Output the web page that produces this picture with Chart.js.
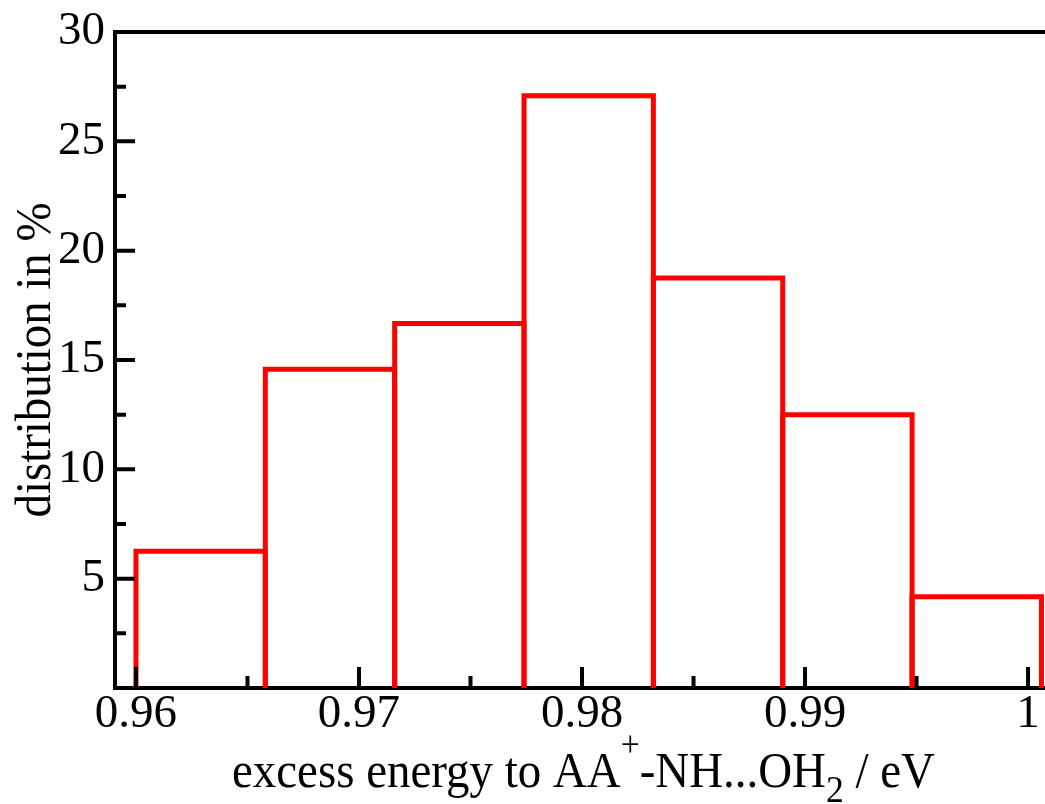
<!DOCTYPE html>
<html>
<head>
<meta charset="utf-8">
<script src="https://cdn.jsdelivr.net/npm/chart.js@4.4.1/dist/chart.umd.min.js"></script>
<style>
  html, body { margin: 0; padding: 0; background: #fff; }
  #container { width: 1045px; height: 804px; }
</style>
</head>
<body>
<div id="container"><canvas id="myChart" width="1045" height="804"></canvas></div>
<script>
// histogram bins (eV) and their share in %
const binEdges = [0.96, 0.9658, 0.9716, 0.9774, 0.9832, 0.989, 0.9948, 1.0006];
const percents = [6.25, 14.58, 16.67, 27.08, 18.75, 12.5, 4.17];

const xTicks = [0.96, 0.97, 0.98, 0.99, 1.0];
const xTickLabels = ["0.96", "0.97", "0.98", "0.99", "1"];
const xMinorTicks = [0.965, 0.975, 0.985, 0.995];
const yTicks = [5, 10, 15, 20, 25, 30];
const yTickLabels = ["5", "10", "15", "20", "25", "30"];
const yMinorTicks = [2.5, 7.5, 12.5, 17.5, 22.5, 27.5];

const yTitle = "distribution in %";
// x title pieces: [text, kind]
const xTitleParts = [
  ["excess energy to AA", "n"],
  ["+", "sup"],
  ["-NH...OH", "n"],
  ["2", "sub"],
  [" / eV", "n"],
];

const serif = "'Liberation Serif', 'Times New Roman', serif";

// outline of each bar: up, across, down
const outline = [];
percents.forEach((p, i) => {
  outline.push(
    { x: binEdges[i], y: 0 },
    { x: binEdges[i], y: p },
    { x: binEdges[i + 1], y: p },
    { x: binEdges[i + 1], y: 0 }
  );
});

const axesPlugin = {
  id: "axesPlugin",
  afterDatasetsDraw(chart) {
    const ctx = chart.ctx;
    const { left, right, top, bottom } = chart.chartArea;
    const xs = chart.scales.x;
    const ys = chart.scales.y;
    ctx.save();
    ctx.strokeStyle = "#000";
    ctx.lineWidth = 4;
    ctx.lineCap = "butt";
    // top frame line
    ctx.beginPath();
    ctx.moveTo(left - 2, top);
    ctx.lineTo(right, top);
    ctx.stroke();
    // inward ticks
    ctx.beginPath();
    xTicks.forEach((v) => {
      const px = xs.getPixelForValue(v);
      ctx.moveTo(px, bottom);
      ctx.lineTo(px, bottom - 21);
    });
    xMinorTicks.forEach((v) => {
      const px = xs.getPixelForValue(v);
      ctx.moveTo(px, bottom);
      ctx.lineTo(px, bottom - 12);
    });
    yTicks.forEach((v) => {
      const py = ys.getPixelForValue(v);
      ctx.moveTo(left, py);
      ctx.lineTo(left + 20, py);
    });
    yMinorTicks.forEach((v) => {
      const py = ys.getPixelForValue(v);
      ctx.moveTo(left, py);
      ctx.lineTo(left + 11, py);
    });
    ctx.stroke();
    ctx.restore();

    // x axis title with super/subscript
    ctx.save();
    ctx.fillStyle = "#000";
    ctx.textBaseline = "alphabetic";
    ctx.textAlign = "left";
    const fontFor = (k) =>
      k === "n" ? "50px " + serif : k === "sup" ? "36px " + serif : "38px " + serif;
    let total = 0;
    xTitleParts.forEach(([t, k]) => {
      ctx.font = fontFor(k);
      total += ctx.measureText(t).width;
    });
    const sx = 703 / total;
    ctx.translate(232, 787);
    ctx.scale(sx, 1);
    let x = 0;
    xTitleParts.forEach(([t, k]) => {
      ctx.font = fontFor(k);
      const dy = k === "sup" ? -31 : k === "sub" ? 15 : 0;
      ctx.fillText(t, x, dy);
      x += ctx.measureText(t).width;
    });
    ctx.restore();

    // y axis title, rotated
    ctx.save();
    ctx.fillStyle = "#000";
    ctx.font = "50px " + serif;
    ctx.textBaseline = "alphabetic";
    ctx.textAlign = "center";
    const w = ctx.measureText(yTitle).width;
    ctx.translate(50, (top + bottom) / 2);
    ctx.rotate(-Math.PI / 2);
    ctx.scale(315 / w, 1);
    ctx.fillText(yTitle, 0, 0);
    ctx.restore();
  },
};

const ctx = document.getElementById("myChart").getContext("2d");
const myChart = new Chart(ctx, {
  type: "line",
  data: {
    datasets: [
      {
        data: outline,
        borderColor: "#ff0000",
        borderWidth: 5,
        pointRadius: 0,
        fill: false,
        tension: 0,
        borderJoinStyle: "miter",
        segment: {
          borderColor: (c) =>
            c.p0.parsed.y === 0 && c.p1.parsed.y === 0 ? "rgba(0,0,0,0)" : undefined,
        },
      },
    ],
  },
  options: {
    responsive: false,
    animation: false,
    events: [],
    layout: { padding: { top: 32, left: 0, right: 0, bottom: 0 } },
    plugins: {
      legend: { display: false },
      tooltip: { enabled: false },
    },
    scales: {
      x: {
        type: "linear",
        min: 0.95906,
        max: 1.00076,
        afterBuildTicks: (s) => {
          s.ticks = xTicks.map((v) => ({ value: v }));
        },
        afterFit: (s) => {
          s.height = 116;
        },
        grid: { display: false },
        border: { display: true, color: "#000", width: 4 },
        ticks: {
          color: "#000",
          font: { family: serif, size: 47 },
          padding: -10,
          maxRotation: 0,
          autoSkip: false,
          callback: (v, i) => xTickLabels[i],
        },
      },
      y: {
        min: 0,
        max: 30,
        afterBuildTicks: (s) => {
          s.ticks = yTicks.map((v) => ({ value: v }));
        },
        afterFit: (s) => {
          s.width = 115;
        },
        grid: { display: false },
        border: { display: true, color: "#000", width: 4 },
        ticks: {
          color: "#000",
          font: { family: serif, size: 47 },
          padding: 2,
          autoSkip: false,
          callback: (v, i) => yTickLabels[i],
        },
      },
    },
  },
  plugins: [axesPlugin],
});
</script>
</body>
</html>
